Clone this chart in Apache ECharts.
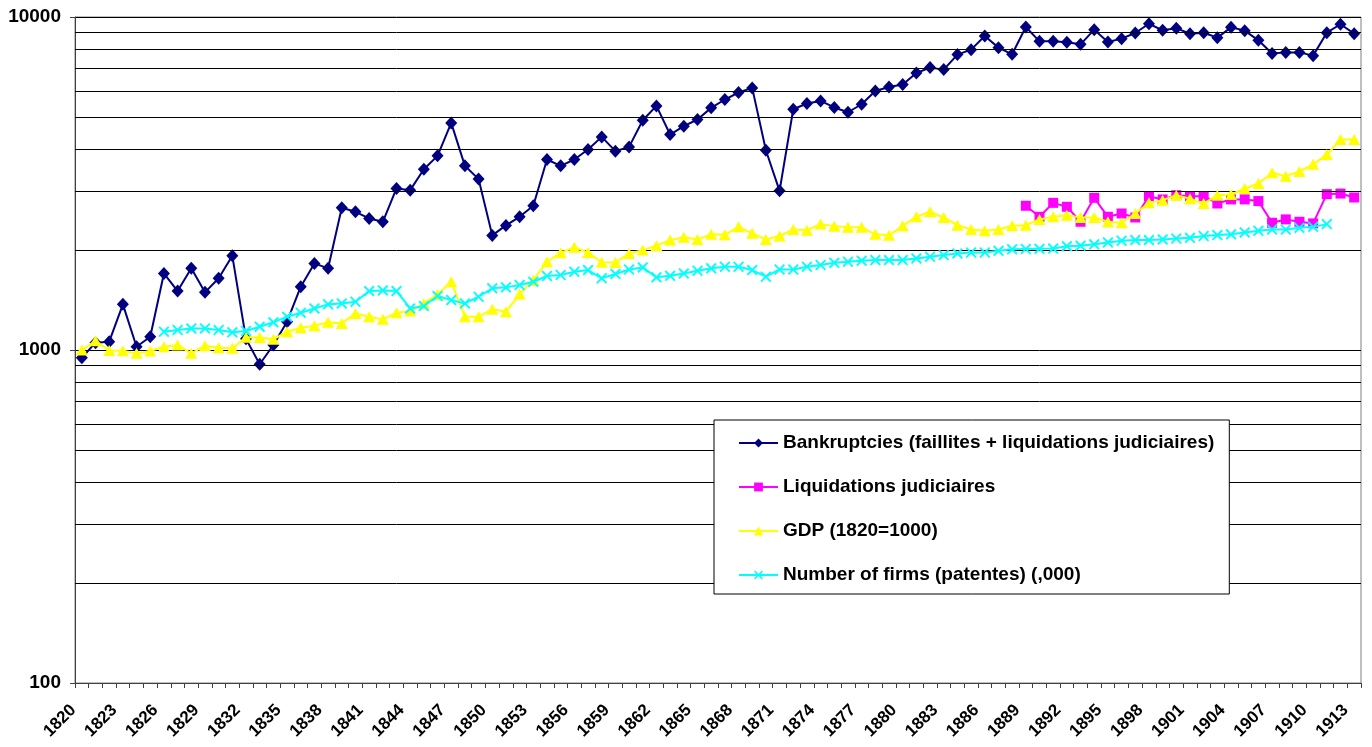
<!DOCTYPE html>
<html>
<head>
<meta charset="utf-8">
<script src="https://cdn.jsdelivr.net/npm/echarts@6/dist/echarts.min.js"></script>
<style>
html,body{margin:0;padding:0;background:#fff;}
#chart{width:1372px;height:747px;}
</style>
</head>
<body>
<div id="chart"></div>
<script>
var firstYear = 1820, lastYear = 1913;
var years = [];
for (var y = firstYear; y <= lastYear; y++) years.push(String(y));

var bankruptcies = [948,1052,1059,1371,1023,1096,1698,1503,1759,1490,1642,1918,1080,906,1035,1216,1549,1820,1759,2673,
2600,2483,2427,3055,3020,3490,3828,4808,3573,3260,2209,2367,2512,2711,3733,3573,3733,4000,4365,3955,
4073,4898,5408,4436,4699,4922,5335,5652,5933,6125,3981,3006,5284,5498,5597,5350,5176,5470,5997,6166,
6267,6792,7047,6950,7711,7980,8770,8091,7727,9333,8451,8451,8400,8279,9161,8410,8610,8954,9545,9120,
9250,8913,8970,8670,9310,9100,8511,7770,7830,7830,7656,8970,9510,8913];

var liquidationsStart = 1889;
var liquidations = [2711,2512,2766,2692,2427,2864,2512,2570,2500,2897,2833,2917,2897,2897,2754,2833,2833,2800,2410,2467,2427,2400,2938,2950,2871];

var gdp = [1000,1066,997,995,977,993,1023,1035,977,1030,1016,1012,1092,1090,1077,1135,1167,1183,1211,1202,
1288,1259,1236,1294,1309,1380,1469,1603,1259,1259,1325,1303,1472,1621,1841,1959,2034,1963,1833,1830,
1950,1995,2057,2138,2181,2148,2225,2218,2343,2240,2148,2200,2300,2290,2388,2355,2335,2335,2225,2210,
2360,2512,2600,2500,2371,2300,2280,2300,2360,2371,2467,2512,2541,2500,2500,2427,2410,2570,2766,2818,
2917,2848,2754,2917,2930,3055,3162,3408,3327,3436,3610,3862,4286,4286];

var firmsStart = 1826;
var firms = [1135,1148,1161,1161,1148,1130,1140,1175,1211,1259,1294,1333,1371,1380,1396,1503,1510,1503,1333,1355,
1452,1412,1380,1445,1532,1542,1567,1603,1668,1680,1718,1738,1642,1692,1745,1770,1653,1670,1698,1730,
1759,1778,1778,1738,1660,1745,1745,1778,1800,1827,1841,1855,1862,1862,1862,1884,1905,1928,1950,1963,
1963,1985,2006,2010,2013,2016,2050,2057,2076,2104,2128,2138,2138,2148,2162,2172,2200,2214,2225,2255,
2280,2300,2300,2327,2343,2388];

var seriesNames = ['Bankruptcies (faillites + liquidations judiciaires)','Liquidations judiciaires','GDP (1820=1000)','Number of firms (patentes) (,000)'];
var minorGridValues = [200,300,400,500,600,700,800,900,2000,3000,4000,5000,6000,7000,8000,9000];

function pad(startYear, vals) {
  var out = [];
  for (var i = 0; i < years.length; i++) {
    var idx = (firstYear + i) - startYear;
    out.push(idx >= 0 && idx < vals.length ? vals[idx] : null);
  }
  return out;
}

var FONT = '"Liberation Sans", Arial, sans-serif';
var xSym = 'path://M0,1.2L1.2,0L5,3.8L8.8,0L10,1.2L6.2,5L10,8.8L8.8,10L5,6.2L1.2,10L0,8.8L3.8,5Z';

var chart = echarts.init(document.getElementById('chart'), null, {renderer:'canvas'});
chart.setOption({
  animation: false,
  backgroundColor: '#fff',
  grid: {left: 75, right: 11, top: 17, bottom: 64, show: true, borderColor: '#808080', borderWidth: 1, containLabel: false},
  legend: {
    orient: 'vertical', left: 714, top: 420, z: 100,
    data: seriesNames,
    backgroundColor: '#fff', borderColor: '#000', borderWidth: 1,
    padding: [13, 15, 9, 24],
    itemGap: 24, itemWidth: 39, itemHeight: 11,
    textStyle: {fontFamily: FONT, fontWeight: 'bold', fontSize: 19, color: '#000', lineHeight: 20},
    selectedMode: false
  },
  xAxis: {
    type: 'category', data: years, boundaryGap: true,
    axisLine: {lineStyle: {color: '#404040', width: 1}},
    axisTick: {show: true, interval: 0, length: 5, lineStyle: {color: '#404040'}},
    axisLabel: {interval: 2, rotate: 45, margin: 16, padding: [0, 12, 0, 0], fontFamily: FONT, fontWeight: 'bold', fontSize: 17, color: '#000'},
    splitLine: {show: false}
  },
  yAxis: {
    type: 'log', logBase: 10, min: 100, max: 10000,
    axisLine: {show: true, lineStyle: {color: '#404040', width: 1}},
    axisTick: {show: true, length: 5, lineStyle: {color: '#404040'}},
    axisLabel: {fontFamily: FONT, fontWeight: 'bold', fontSize: 19, color: '#000', margin: 14,
      formatter: function(v){ return String(Math.round(v)); }},
    splitLine: {show: true, lineStyle: {color: '#000', width: 1}}
  },
  series: [
    {
      name: '_grid', type: 'line', data: [], z: 1, silent: true,
      markLine: {
        silent: true, symbol: ['none','none'], animation: false,
        label: {show: false},
        lineStyle: {color: '#000', width: 1, type: 'solid'},
        emphasis: {disabled: true},
        data: minorGridValues.map(function(v){ return {yAxis: v}; })
      }
    },
    {
      name: seriesNames[0], type: 'line', data: bankruptcies, z: 3, showAllSymbol: true,
      symbol: 'diamond', symbolSize: [12, 13],
      lineStyle: {color: '#000080', width: 2},
      itemStyle: {color: '#000080'},
      emphasis: {disabled: true}
    },
    {
      name: seriesNames[1], type: 'line', data: pad(liquidationsStart, liquidations), z: 4, showAllSymbol: true,
      symbol: 'rect', symbolSize: 10,
      lineStyle: {color: '#FF00FF', width: 2},
      itemStyle: {color: '#FF00FF'},
      emphasis: {disabled: true}
    },
    {
      name: seriesNames[2], type: 'line', data: gdp, z: 5, showAllSymbol: true,
      symbol: 'triangle', symbolSize: [12, 11],
      lineStyle: {color: '#FFFF00', width: 2},
      itemStyle: {color: '#FFFF00'},
      emphasis: {disabled: true}
    },
    {
      name: seriesNames[3], type: 'line', data: pad(firmsStart, firms), z: 6, showAllSymbol: true,
      symbol: xSym, symbolSize: 11,
      lineStyle: {color: '#00FFFF', width: 2},
      itemStyle: {color: '#00FFFF'},
      emphasis: {disabled: true}
    }
  ]
});
</script>
</body>
</html>
